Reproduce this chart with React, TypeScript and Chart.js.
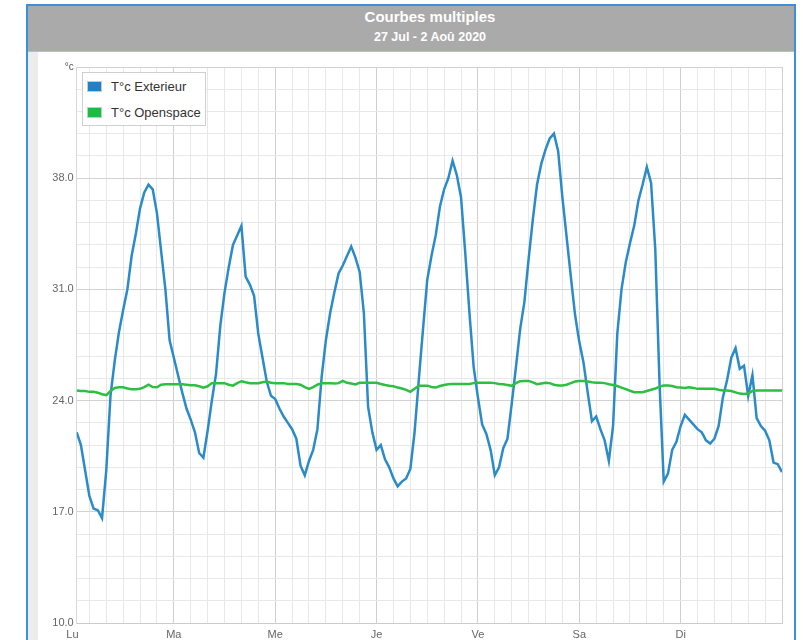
import React, { useEffect, useRef } from 'react';
import { Chart, registerables } from 'chart.js';

Chart.register(...registerables);

// ---- data ----
const titleText = 'Courbes multiples';
const subtitleText = '27 Jul - 2 Aoû 2020';
const seriesNames = ['T°c Exterieur', 'T°c Openspace'];
const dayLabels = ['Lu', 'Ma', 'Me', 'Je', 'Ve', 'Sa', 'Di'];
const yLabels = ['10.0', '17.0', '24.0', '31.0', '38.0', '°c'];
const firstHour = 1; // first sample: Monday 01:00, one sample per hour

const exterieur = [
  22.0, 21.2, 19.6, 18.0, 17.2, 17.1, 16.6, 19.6, 24.3, 26.5, 28.3, 29.7,
  31.0, 33.1, 34.5, 36.1, 37.1, 37.6, 37.3, 35.8, 33.4, 31.0, 27.8, 26.7,
  25.6, 24.5, 23.5, 22.8, 22.0, 20.7, 20.4, 22.1, 24.0, 25.7, 28.7, 30.8,
  32.4, 33.8, 34.4, 35.0, 31.8, 31.3, 30.6, 28.2, 26.7, 25.2, 24.3, 24.1,
  23.5, 23.0, 22.6, 22.2, 21.6, 19.9, 19.3, 20.2, 20.9, 22.2, 25.5, 27.8,
  29.5, 30.8, 32.0, 32.5, 33.1, 33.7, 33.0, 32.1, 29.5, 23.6, 22.0, 20.9,
  21.2, 20.3, 19.8, 19.1, 18.6, 18.9, 19.1, 19.7, 22.0, 25.3, 28.5, 31.6,
  33.1, 34.4, 36.2, 37.3, 38.0, 39.1, 38.2, 36.8, 33.3, 29.5, 26.1, 24.2,
  22.5, 21.9, 20.9, 19.3, 19.8, 21.0, 21.6, 23.8, 26.1, 28.5, 30.2, 32.9,
  35.4, 37.6, 38.9, 39.8, 40.5, 40.8, 39.7, 36.8, 34.3, 31.8, 29.4, 27.7,
  26.4, 24.5, 22.7, 23.0, 22.2, 21.5, 20.2, 22.4, 28.2, 31.0, 32.7, 33.9,
  35.0, 36.6, 37.6, 38.7, 37.7, 33.5, 25.1, 18.9, 19.4, 20.9, 21.4, 22.4,
  23.1, 22.8, 22.5, 22.2, 22.0, 21.5, 21.3, 21.6, 22.4, 24.2, 25.3, 26.7,
  27.3, 26.0, 26.2, 24.3, 25.6, 22.9, 22.4, 22.1, 21.5, 20.1, 20.0, 19.5,
];

const openspace = [
  24.63, 24.6, 24.6, 24.55, 24.55, 24.5, 24.4, 24.35, 24.6, 24.8, 24.84, 24.84,
  24.76, 24.72, 24.72, 24.74, 24.85, 25.0, 24.85, 24.84, 25.0, 25.03, 25.03, 25.03,
  25.03, 25.03, 25.0, 24.97, 24.97, 24.9, 24.82, 24.9, 25.1, 25.1, 25.1, 25.1,
  25.0, 24.94, 25.1, 25.22, 25.15, 25.1, 25.1, 25.1, 25.15, 25.2, 25.12, 25.1,
  25.1, 25.1, 25.05, 25.05, 25.05, 25.0, 24.85, 24.74, 24.85, 25.0, 25.1, 25.1,
  25.1, 25.08, 25.1, 25.24, 25.12, 25.07, 25.02, 25.12, 25.13, 25.13, 25.13, 25.12,
  25.05, 24.98, 24.93, 24.9, 24.82, 24.76, 24.68, 24.55, 24.75, 24.94, 24.94, 24.94,
  24.86, 24.82, 24.92, 24.98, 25.03, 25.05, 25.05, 25.05, 25.05, 25.05, 25.1, 25.13,
  25.13, 25.13, 25.12, 25.1, 25.05, 25.03, 24.98, 24.93, 25.1, 25.22, 25.24, 25.24,
  25.15, 25.03, 25.08, 25.13, 25.1, 25.0, 24.95, 24.95, 25.0, 25.1, 25.2, 25.24,
  25.24, 25.2, 25.15, 25.13, 25.13, 25.1, 25.03, 24.98, 24.92, 24.82, 24.72, 24.62,
  24.53, 24.53, 24.53, 24.6, 24.68, 24.76, 24.88, 24.95, 24.95, 24.92, 24.84, 24.82,
  24.8, 24.84, 24.8, 24.74, 24.74, 24.74, 24.74, 24.74, 24.68, 24.63, 24.63, 24.6,
  24.52, 24.44, 24.42, 24.45, 24.6, 24.63, 24.63, 24.63, 24.63, 24.63, 24.63, 24.63,
];

// axis settings
const yMin = 10;
const yMax = 45;
const yMinorStep = 1.4;
const yMinorPerMajor = 5;
const xMin = 1;
const xMax = 168;
const xMinorStepHours = 4;
const hoursPerDay = 24;

const FONT = '"Liberation Sans", Arial, Helvetica, sans-serif';
const BLUE = '#2a8bc8';
const GREEN = '#2dbe42';

export default function App() {
  const canvasRef = useRef<HTMLCanvasElement | null>(null);

  useEffect(() => {
    const canvas = canvasRef.current;
    if (!canvas) return;

    const toPoints = (arr: number[]) => arr.map((v, i) => ({ x: firstHour + i, y: v }));

    const yTickValues: number[] = [];
    const nY = Math.round((yMax - yMin) / yMinorStep);
    for (let k = 0; k <= nY; k++) yTickValues.push(Math.round((yMin + k * yMinorStep) * 100) / 100);

    const xTickValues: number[] = [];
    for (let h = 0; h <= xMax; h += xMinorStepHours) xTickValues.push(h);

    const chart = new Chart(canvas, {
      type: 'line',
      data: {
        datasets: [
          {
            label: seriesNames[0],
            data: toPoints(exterieur),
            borderColor: BLUE,
            backgroundColor: BLUE,
            borderWidth: 2.5,
            pointRadius: 0,
            tension: 0,
            order: 2,
          },
          {
            label: seriesNames[1],
            data: toPoints(openspace),
            borderColor: GREEN,
            backgroundColor: GREEN,
            borderWidth: 2.5,
            pointRadius: 0,
            tension: 0,
            order: 1,
          },
        ],
      },
      options: {
        animation: false,
        responsive: true,
        maintainAspectRatio: false,
        layout: { padding: { left: 0, top: 15, right: 13, bottom: 0 } },
        plugins: {
          legend: { display: false },
          title: { display: false },
          tooltip: { enabled: false },
        },
        scales: {
          x: {
            type: 'linear',
            min: xMin,
            max: xMax,
            afterBuildTicks: (scale: any) => {
              scale.ticks = xTickValues.map((v) => ({ value: v }));
            },
            afterFit: (scale: any) => {
              scale.height = 17;
            },
            grid: {
              drawTicks: false,
              color: (ctx: any) => {
                const v = ctx.tick ? ctx.tick.value : -1;
                if (v < xMin) return 'rgba(0,0,0,0)';
                return v % hoursPerDay === 0 ? '#cfcfcf' : '#e8e8e8';
              },
              lineWidth: 1,
            },
            border: { display: true, color: '#cccccc', width: 1 },
            ticks: {
              autoSkip: false,
              maxRotation: 0,
              padding: 5,
              color: '#666666',
              font: { family: FONT, size: 11 },
              callback: (value: any) => {
                const v = Number(value);
                if (v % hoursPerDay === 0) {
                  const d = v / hoursPerDay;
                  return d < dayLabels.length ? dayLabels[d] : '';
                }
                return '';
              },
            },
          },
          y: {
            type: 'linear',
            min: yMin,
            max: yMax,
            afterBuildTicks: (scale: any) => {
              scale.ticks = yTickValues.map((v) => ({ value: v }));
            },
            afterFit: (scale: any) => {
              scale.width = 38.7;
            },
            grid: {
              drawTicks: false,
              color: (ctx: any) => {
                const idx = ctx.index;
                return idx % yMinorPerMajor === 0 ? '#d2d2d2' : '#e8e8e8';
              },
              lineWidth: 1,
            },
            border: { display: true, color: '#d8d8d8', width: 1 },
            ticks: {
              autoSkip: false,
              padding: 3,
              color: (ctx: any) => (ctx.index === nY ? '#555555' : '#666666'),
              font: (ctx: any) => ({ family: FONT, size: ctx.index === nY ? 10 : 11 }),
              callback: (_value: any, index: number) => {
                if (index % yMinorPerMajor !== 0) return '';
                return yLabels[index / yMinorPerMajor] ?? '';
              },
            },
          },
        },
      },
    });

    return () => chart.destroy();
  }, []);

  const legendItems = [
    { name: seriesNames[0], color: '#1e81cc' },
    { name: seriesNames[1], color: '#1dbb3f' },
  ];

  return (
    <div style={{ position: 'absolute', left: 0, top: 0, width: 803, height: 640, overflow: 'hidden', background: '#ffffff', fontFamily: FONT }}>
      {/* outer frame */}
      <div style={{ position: 'absolute', left: 26, top: 4, width: 770, height: 660, borderLeft: '2px solid #3b8fe0', borderTop: '2px solid #3b8fe0', borderRight: '2px solid #3b8fe0', boxSizing: 'border-box' }} />
      {/* title bar */}
      <div style={{ position: 'absolute', left: 28, top: 6, width: 766, height: 45, background: '#aaaaaa' }} />
      <div style={{ position: 'absolute', left: 28, top: 51, width: 766, height: 1, background: '#9dd39d' }} />
      {/* left band */}
      <div style={{ position: 'absolute', left: 28, top: 52, width: 10, height: 600, background: '#ececec' }} />
      {/* titles */}
      <div style={{ position: 'absolute', left: 230, width: 400, top: 7, height: 20, lineHeight: '20px', textAlign: 'center', color: '#ffffff', fontWeight: 'bold', fontSize: 15 }}>{titleText}</div>
      <div style={{ position: 'absolute', left: 230, width: 400, top: 28, height: 18, lineHeight: '18px', textAlign: 'center', color: '#ffffff', fontWeight: 'bold', fontSize: 12.5 }}>{subtitleText}</div>
      {/* chart */}
      <div style={{ position: 'absolute', left: 38, top: 52, width: 757, height: 588 }}>
        <canvas ref={canvasRef} />
      </div>
      {/* legend */}
      <div style={{ position: 'absolute', left: 82, top: 72, width: 124, height: 54, border: '1px solid #cfcfcf', background: '#ffffff', boxSizing: 'border-box' }}>
        {legendItems.map((it, i) => (
          <div key={i} style={{ position: 'absolute', left: 0, top: 6 + i * 26, height: 16, width: 122 }}>
            <div style={{ position: 'absolute', left: 4, top: 2, width: 15, height: 11, background: it.color, border: '1px solid #c8c8c8', boxSizing: 'border-box' }} />
            <div style={{ position: 'absolute', left: 28, top: 0, height: 16, lineHeight: '16px', fontSize: 13, color: '#333333', whiteSpace: 'nowrap' }}>{it.name}</div>
          </div>
        ))}
      </div>
    </div>
  );
}
